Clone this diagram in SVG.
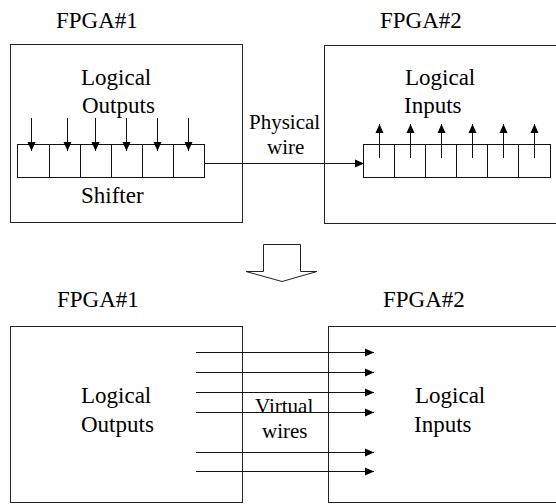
<svg xmlns="http://www.w3.org/2000/svg" width="556" height="504" viewBox="0 0 556 504">
  <style>
    .frame { fill: #fff; stroke: #222; stroke-width: 1; }
    .cell { fill: none; stroke: #111; stroke-width: 1; }
    .wire { fill: none; stroke: #111; stroke-width: 1; }
  </style>
  <defs>
    <marker id="head" markerUnits="userSpaceOnUse" markerWidth="10" markerHeight="10" viewBox="0 0 10 10" refX="10" refY="5" orient="auto">
      <path d="M1,1 L10,5 L1,9 Z" fill="#000"/>
    </marker>
  </defs>

  <rect width="556" height="504" fill="#fff"/>

  <!-- Upper scheme: one physical wire driven by a shifter -->
  <g id="fpga1-top">
    <text font-family="Liberation Serif" font-size="23" x="56" y="28">FPGA#1</text>
    <rect class="frame" x="10.5" y="44.5" width="232" height="178"/>
    <text font-family="Liberation Serif" font-size="23" x="81" y="85">Logical</text>
    <text font-family="Liberation Serif" font-size="23" x="82" y="113">Outputs</text>
    <text font-family="Liberation Serif" font-size="23" x="81" y="203">Shifter</text>
  </g>

  <g id="shifter-out">
    <rect class="cell" x="17.5" y="144.5" width="187" height="33"/>
    <path class="cell" d="M49.5,144.5V177.5 M80.5,144.5V177.5 M111.5,144.5V177.5 M142.5,144.5V177.5 M173.5,144.5V177.5"/>
  </g>

  <g id="fpga2-top">
    <text font-family="Liberation Serif" font-size="23" x="380" y="28">FPGA#2</text>
    <rect class="frame" x="324.5" y="45.5" width="240" height="178"/>
    <text font-family="Liberation Serif" font-size="23" x="405" y="85">Logical</text>
    <text font-family="Liberation Serif" font-size="23" x="404" y="113">Inputs</text>
  </g>

  <g id="shifter-in">
    <rect class="cell" x="363.5" y="144.5" width="187" height="33"/>
    <path class="cell" d="M394.5,144.5V177.5 M425.5,144.5V177.5 M456.5,144.5V177.5 M487.5,144.5V177.5 M518.5,144.5V177.5"/>
  </g>

  <g id="physical-label">
    <text font-family="Liberation Serif" font-size="21" x="249" y="129">Physical</text>
    <text font-family="Liberation Serif" font-size="21" x="267" y="154">wire</text>
  </g>

  <g id="connectors-top">
    <path class="wire" d="M31.5,118V151" marker-end="url(#head)"/>
    <path class="wire" d="M67.5,118V151" marker-end="url(#head)"/>
    <path class="wire" d="M95.5,118V151" marker-end="url(#head)"/>
    <path class="wire" d="M126.5,118V151" marker-end="url(#head)"/>
    <path class="wire" d="M157.5,118V151" marker-end="url(#head)"/>
    <path class="wire" d="M188.5,118V151" marker-end="url(#head)"/>
    <path class="wire" d="M204.5,163.5H364" marker-end="url(#head)"/>
    <path class="wire" d="M379.5,158V124" marker-end="url(#head)"/>
    <path class="wire" d="M410.5,158V124" marker-end="url(#head)"/>
    <path class="wire" d="M441.5,158V124" marker-end="url(#head)"/>
    <path class="wire" d="M472.5,158V124" marker-end="url(#head)"/>
    <path class="wire" d="M503.5,158V124" marker-end="url(#head)"/>
    <path class="wire" d="M534.5,158V124" marker-end="url(#head)"/>
  </g>

  <!-- Transformation arrow -->
  <g id="transform-arrow">
    <path d="M263.5,244.5H300.5V271.5H317L282,281.5L246,271.5H263.5Z" fill="#fff" stroke="#222" stroke-width="1"/>
  </g>

  <!-- Lower scheme: several virtual wires -->
  <g id="fpga1-bottom">
    <text font-family="Liberation Serif" font-size="23" x="57" y="307">FPGA#1</text>
    <rect class="frame" x="10.5" y="326.5" width="232" height="176"/>
    <text font-family="Liberation Serif" font-size="23" x="81" y="403">Logical</text>
    <text font-family="Liberation Serif" font-size="23" x="81" y="432">Outputs</text>
  </g>

  <g id="fpga2-bottom">
    <text font-family="Liberation Serif" font-size="23" x="383" y="307">FPGA#2</text>
    <rect class="frame" x="328.5" y="326.5" width="240" height="176" fill="none"/>
    <text font-family="Liberation Serif" font-size="23" x="415" y="403">Logical</text>
    <text font-family="Liberation Serif" font-size="23" x="414" y="432">Inputs</text>
  </g>

  <g id="virtual-label">
    <text font-family="Liberation Serif" font-size="21" x="255" y="413">Virtual</text>
    <text font-family="Liberation Serif" font-size="21" x="262" y="438">wires</text>
  </g>

  <g id="connectors-bottom">
    <path class="wire" d="M196,352.5H374" marker-end="url(#head)"/>
    <path class="wire" d="M196,372.5H374" marker-end="url(#head)"/>
    <path class="wire" d="M196,392.5H374" marker-end="url(#head)"/>
    <path class="wire" d="M196,412.5H374" marker-end="url(#head)"/>
    <path class="wire" d="M196,452.5H374" marker-end="url(#head)"/>
    <path class="wire" d="M196,471.5H374" marker-end="url(#head)"/>
  </g>
</svg>
